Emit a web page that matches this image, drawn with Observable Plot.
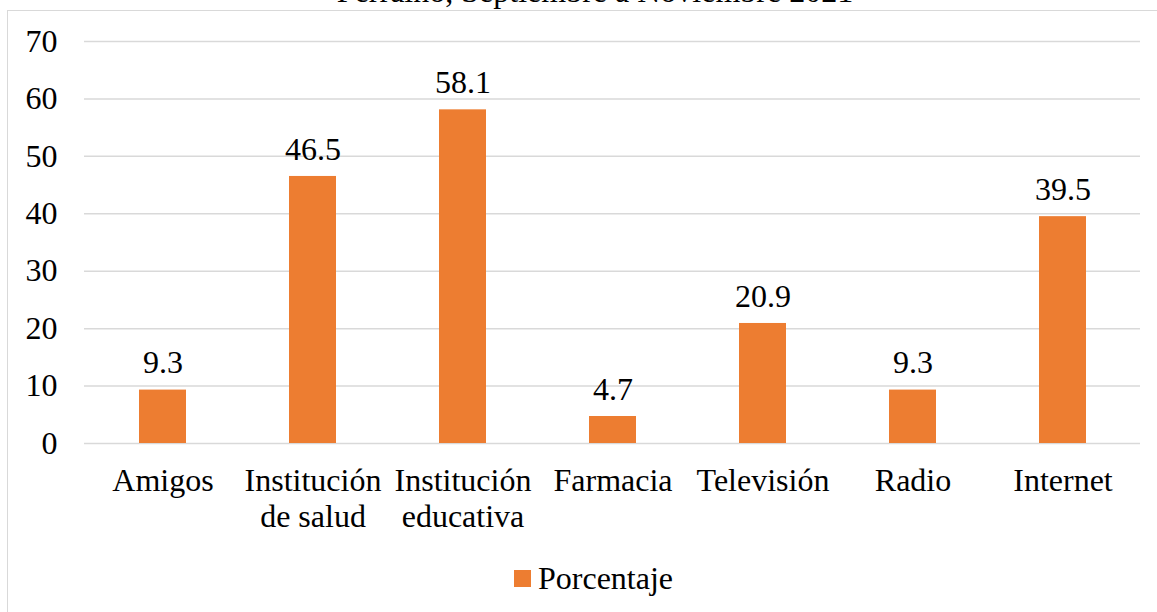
<!DOCTYPE html>
<html>
<head>
<meta charset="utf-8">
<script src="https://cdn.jsdelivr.net/npm/d3@7"></script>
<script src="https://cdn.jsdelivr.net/npm/@observablehq/plot@0.6"></script>
<style>
  html, body { margin: 0; padding: 0; background: #fff; overflow: hidden; }
  body { width: 1157px; height: 612px; position: relative; font-family: "Liberation Serif", "Times New Roman", serif; }
  #title { position: absolute; top: -27px; left: 0; width: 1190px; text-align: center; font-size: 32px; color: #000; white-space: nowrap; }
  #frame { position: absolute; left: 7px; top: 10px; width: 1200px; height: 700px; border: 1.5px solid #d9d9d9; box-sizing: border-box; background: #fff; }
  #chart { position: absolute; left: 0; top: 0; }
  #chart svg text { font-family: "Liberation Serif", "Times New Roman", serif !important; }
  #legend { position: absolute; top: 560px; left: 514px; font-size: 32px; display: flex; align-items: center; color: #000; }
  #legend .sw { width: 17px; height: 17px; background: #ED7D31; margin-right: 7px; }
</style>
</head>
<body>
<div id="frame"></div>
<div id="title">Ferraino, Septiembre a Noviembre 2021</div>
<div id="chart"></div>
<div id="legend"><span class="sw"></span><span>Porcentaje</span></div>
<script>
const categories = ["Amigos", "Institución\nde salud", "Institución\neducativa", "Farmacia", "Televisión", "Radio", "Internet"];
const values = [9.3, 46.5, 58.1, 4.7, 20.9, 9.3, 39.5];
const yTicks = [0, 10, 20, 30, 40, 50, 60, 70];
const seriesName = "Porcentaje";

const data = categories.map((c, i) => ({category: c, value: values[i]}));
const serif = "'Liberation Serif', 'Times New Roman', serif";

const chart = Plot.plot({
  width: 1157,
  height: 540,
  marginTop: 41,
  marginBottom: 97,
  marginLeft: 84,
  marginRight: 17,
  style: {fontFamily: serif, fontSize: "32px", background: "transparent", color: "#000"},
  x: {domain: categories, paddingInner: 0.69, paddingOuter: 0.345, label: null},
  y: {domain: [0, 70], ticks: yTicks, label: null},
  marks: [
    Plot.gridY(yTicks, {stroke: "#d9d9d9", strokeOpacity: 1, strokeWidth: 1.5}),
    Plot.barY(data, {x: "category", y: "value", fill: "#ED7D31"}),
    Plot.axisY(yTicks, {tickSize: 0, tickPadding: 27, fontSize: 32, fontFamily: serif, fill: "#000", label: null}),
    Plot.axisX({tickSize: 0, tickPadding: 22, fontSize: 32, fontFamily: serif, fill: "#000", lineHeight: 1.125, label: null}),
    Plot.text(data, {x: "category", y: "value", text: d => d.value.toFixed(1), dy: -27, fontSize: 32, fontFamily: serif, fill: "#000"})
  ]
});
document.getElementById("chart").appendChild(chart);
</script>
</body>
</html>
